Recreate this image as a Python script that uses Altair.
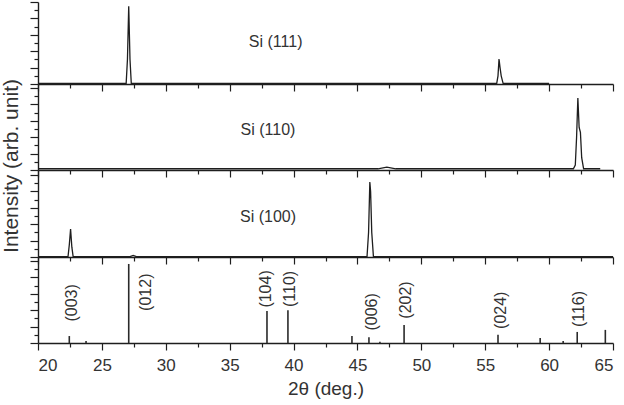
import altair as alt
import pandas as pd

FONT = "Liberation Sans"
LINE = "#1e1e1e"
TXT = "#333333"

# ---- data ----
# Si (111) spectrum
si111_x = [20, 26.9, 27.0, 27.1, 27.2, 27.3, 55.9, 56.0, 56.08, 56.16, 56.25, 56.4, 60]
si111_y = [0.08, 0.08, 3.0, 9.5, 3.0, 0.08, 0.08, 1.0, 3.05, 2.0, 1.0, 0.08, 0.08]
# Si (110) spectrum
si110_x = [20, 46.6, 47.3, 48.0, 61.9, 62.05, 62.15, 62.25, 62.35, 62.45, 62.55, 62.7, 64]
si110_y = [0.15, 0.15, 0.35, 0.15, 0.15, 0.6, 4.0, 8.8, 5.2, 4.6, 1.5, 0.15, 0.15]
# Si (100) spectrum
si100_x = [20, 22.35, 22.45, 22.55, 22.65, 22.75, 27.2, 27.45, 27.7, 45.75, 45.87, 45.97, 46.03, 46.12, 46.25, 65]
si100_y = [0.05, 0.05, 1.5, 3.4, 1.2, 0.05, 0.05, 0.2, 0.05, 0.05, 3.0, 9.15, 8.0, 3.0, 0.05, 0.05]

# reference pattern sticks
ref_pos = [22.45, 23.76, 27.1, 37.92, 39.56, 44.57, 45.9, 46.76, 48.65, 56.0, 59.3, 61.1, 62.2, 64.4]
ref_int = [0.85, 0.25, 9.65, 3.9, 4.0, 0.85, 0.7, 0.15, 2.2, 1.0, 0.6, 0.25, 1.35, 1.6]

ref_labels = ["(003)", "(012)", "(104)", "(110)", "(006)", "(202)", "(024)", "(116)"]
ref_label_x = [22.66, 28.45, 37.84, 39.72, 46.13, 48.8, 56.23, 62.33]
ref_label_y = [4.9, 6.2, 6.6, 6.6, 3.8, 5.25, 4.0, 4.15]

panel_names = ["Si (111)", "Si (110)", "Si (100)"]
panel_label_x = [38.6, 38.0, 38.0]
panel_label_y = [5.1, 4.9, 4.9]

x_ticks = [20, 22.5, 25, 27.5, 30, 32.5, 35, 37.5, 40, 42.5, 45, 47.5, 50,
           52.5, 55, 57.5, 60, 62.5, 65]
y_ticks = [0, 1, 2, 3, 4, 5, 6, 7, 8, 9, 10]

y_title = "Intensity (arb. unit)"
x_title = "2θ (deg.)"

# ---- layout ----
W = 575
PX_PER_UNIT = 8.19
heights = [82, 86, 87, 86]


def xaxis(bottom):
    kw = dict(
        values=x_ticks,
        tickSize={"condition": {"test": "datum.value % 5 === 0", "value": 7}, "value": 4},
        grid=False,
        domainColor=LINE,
        tickColor=LINE,
        domainWidth=1.4,
        tickWidth=1.2,
        labels=bottom,
    )
    if bottom:
        kw.update(
            labelExpr="datum.value % 5 === 0 ? datum.label : ''",
            labelFontSize=17,
            labelFont=FONT,
            labelColor=TXT,
            labelPadding=7,
            title=x_title,
            titleFont=FONT,
            titleFontSize=19,
            titleFontWeight="normal",
            titleColor=TXT,
            titlePadding=6,
        )
    else:
        kw.update(title="")
    return alt.Axis(**kw)


def yaxis():
    return alt.Axis(
        values=y_ticks,
        tickSize={"condition": {"test": "datum.value % 2 === 0", "value": 8}, "value": 4},
        grid=False,
        labels=False,
        title="",
        domainColor=LINE,
        tickColor=LINE,
        domainWidth=1.4,
        tickWidth=1.2,
    )


def enc_xy(h, bottom, xf="x", yf="y"):
    return dict(
        x=alt.X(f"{xf}:Q", scale=alt.Scale(domain=[20, 65], nice=False, zero=False), axis=xaxis(bottom)),
        y=alt.Y(f"{yf}:Q", scale=alt.Scale(domain=[0, h / PX_PER_UNIT], nice=False), axis=yaxis()),
    )


spectra = [(si111_x, si111_y), (si110_x, si110_y), (si100_x, si100_y)]
panels = []
for i, (xs, ys) in enumerate(spectra):
    h = heights[i]
    df = pd.DataFrame({"x": xs, "y": ys})
    line = alt.Chart(df).mark_line(color=LINE, strokeWidth=1.3).encode(**enc_xy(h, False))
    lab = pd.DataFrame({"x": [panel_label_x[i]], "y": [panel_label_y[i]], "t": [panel_names[i]]})
    txt = alt.Chart(lab).mark_text(font=FONT, fontSize=16, color=TXT, align="center", baseline="middle").encode(
        text="t:N", **enc_xy(h, False))
    layers = [line, txt]
    if i == 2:
        yt = pd.DataFrame({"t": [y_title]})
        ytxt = alt.Chart(yt).mark_text(font=FONT, fontSize=21, color=TXT, angle=270,
                                       align="center", baseline="middle").encode(
            text="t:N", x=alt.value(-26), y=alt.value(-4))
        layers.append(ytxt)
    panels.append(alt.layer(*layers).properties(width=W, height=h))

# bottom: reference pattern
h = heights[3]
sticks = pd.DataFrame({"x": ref_pos, "y": ref_int, "base": [0] * len(ref_pos)})
rules = alt.Chart(sticks).mark_rule(color="#2a2a2a", strokeWidth=1.6).encode(
    y2="base:Q", **enc_xy(h, True))
labs = pd.DataFrame({"x": ref_label_x, "y": ref_label_y, "t": ref_labels})
ltxt = alt.Chart(labs).mark_text(font=FONT, fontSize=16, color=TXT, angle=270,
                                 align="center", baseline="middle").encode(
    text="t:N", **enc_xy(h, True))
panels.append(alt.layer(rules, ltxt).properties(width=W, height=h))

chart = alt.vconcat(*panels, spacing=0, bounds="flush", padding=0).configure_view(
    stroke="transparent"
)

chart.save("out.html", embed_options={"renderer": "svg", "actions": False})
